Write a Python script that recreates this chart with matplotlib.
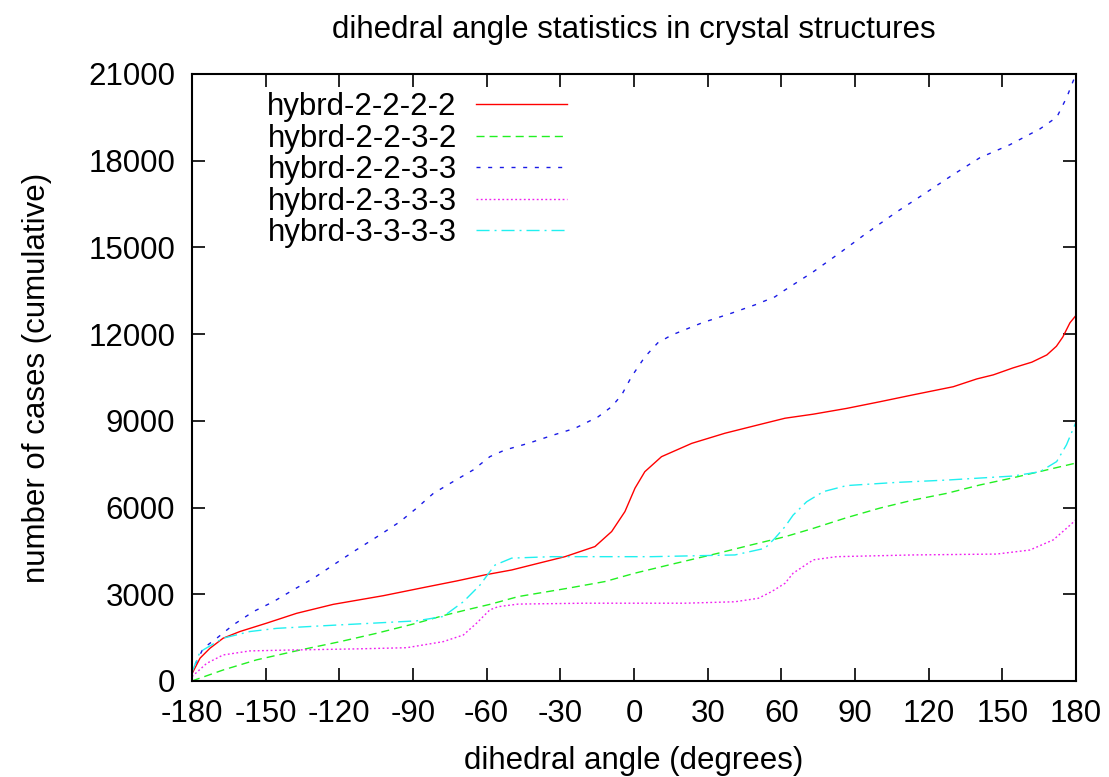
import matplotlib
matplotlib.use("Agg")
import matplotlib.pyplot as plt

# values (angle in degrees, cumulative count)
x_2222 = [-180, -176.7, -172.7, -167.3, -160.5, -149.6, -137.4, -122.5, -102.1, -85.8, -72.2,
          -60.7, -49.8, -39, -28.1, -15.9, -9.1, -3.7, 0.4, 4.4, 11.2, 23.5, 37, 50.6, 61.5,
          73, 86.6, 100.1, 113.7, 130, 139.6, 146.3, 154.3, 162, 168.1, 172, 174.6, 177.5, 180]
y_2222 = [250, 790, 1130, 1480, 1710, 2000, 2340, 2650, 2950, 3230, 3460,
          3670, 3840, 4070, 4300, 4650, 5170, 5860, 6670, 7240, 7760, 8220, 8570, 8860, 9090,
          9230, 9430, 9660, 9900, 10180, 10450, 10590, 10830, 11030, 11280, 11580, 11900, 12390, 12650]

x_2232 = [-180, -167.3, -153.7, -136, -119.7, -104.8, -88.5, -77.7, -68.2, -58.7, -47.1,
          -26.8, -11.8, 0.4, 14, 34.3, 47.9, 61.5, 73, 86.6, 100.1, 113.7, 127.3, 140.8,
          154.4, 168, 180]
y_2232 = [0, 380, 730, 1070, 1360, 1650, 2000, 2260, 2460, 2650, 2920,
          3210, 3440, 3730, 4010, 4420, 4710, 4990, 5280, 5650, 5980, 6260, 6490, 6780,
          7030, 7300, 7540]

x_2233 = [-180, -179.5, -175.4, -169.9, -163.2, -155, -146.9, -138.8, -130.6, -122.5, -114.3,
          -103.5, -95.3, -88.5, -81.7, -73.6, -65.5, -58.7, -52.6, -43.1, -33.5, -24.1, -14.6,
          -9.1, -5, -1, 4.4, 9.7, 15.4, 27.7, 39.9, 49.2, 57.4, 61, 72.9, 83.8, 94.8, 107,
          117.6, 129.8, 140.8, 153, 165.3, 172.2, 176.3, 178.7, 180]
y_2233 = [200, 440, 1130, 1480, 1940, 2400, 2740, 3150, 3550, 4010, 4470,
          5050, 5510, 5980, 6490, 6900, 7300, 7760, 7990, 8220, 8490, 8740, 9140,
          9490, 9900, 10530, 11210, 11700, 11970, 12390, 12730, 13010, 13290, 13500, 14150,
          14810, 15500, 16230, 16820, 17510, 18100, 18550, 19100, 19510, 20210, 20730, 21000]

x_2333 = [-180, -174, -167.3, -156.4, -140.1, -112.9, -92.6, -77.7, -69.5, -64.1, -58.7,
          -55.3, -47.1, -20, 20.7, 41.1, 50.6, 56, 61.5, 64.8, 73, 82.5, 113.7, 147.6,
          161.2, 170.7, 176.1, 180]
y_2333 = [150, 610, 900, 1040, 1070, 1110, 1150, 1360, 1590, 2000, 2460,
          2570, 2660, 2690, 2690, 2740, 2860, 3090, 3380, 3730, 4190, 4300, 4360, 4390,
          4530, 4880, 5280, 5580]

x_3333 = [-180, -176.7, -167.3, -156.4, -145.5, -126.5, -106.2, -88.5, -77.7, -69.5, -62.7,
          -58.7, -56.6, -49.8, -33.5, 7.2, 41.1, 53.3, 57.4, 61.5, 64.8, 70.3, 77.1, 86.6,
          107, 127.3, 154.4, 165.3, 172.1, 176.1, 179.5, 180]
y_3333 = [300, 1010, 1480, 1710, 1820, 1910, 2000, 2080, 2230, 2740, 3320,
          3780, 4010, 4250, 4300, 4300, 4360, 4590, 4940, 5340, 5740, 6200, 6550, 6760,
          6870, 6950, 7090, 7240, 7590, 8170, 8860, 8950]

labels = ["hybrd-2-2-2-2", "hybrd-2-2-3-2", "hybrd-2-2-3-3", "hybrd-2-3-3-3", "hybrd-3-3-3-3"]
colors = ["#ff0000", "#22f022", "#1a1ae6", "#f020f0", "#20f0f0"]
dashes = [None, (5.8, 3.6), (2.9, 5.5), (1.3, 1.8), (9.4, 3.6, 1.4, 3.6)]

xticks = list(range(-180, 181, 30))
yticks = list(range(0, 21001, 3000))

plt.rcParams['font.family'] = ['Liberation Sans', 'DejaVu Sans']
plt.rcParams['font.size'] = 22.5
plt.rcParams['axes.unicode_minus'] = False

fig = plt.figure(figsize=(11.09, 7.77), dpi=100)
ax = fig.add_axes([0.1731, 0.1236, 0.7972, 0.7812])

series = [(x_2222, y_2222), (x_2232, y_2232), (x_2233, y_2233), (x_2333, y_2333), (x_3333, y_3333)]
for (xs, ys), lab, col, ds in zip(series, labels, colors, dashes):
    line, = ax.plot(xs, ys, color=col, lw=1.0, label=lab)
    if ds is not None:
        line.set_dashes(ds)

ax.set_xlim(-180, 180)
ax.set_ylim(0, 21000)
ax.set_xticks(xticks)
ax.set_yticks(yticks)
ax.tick_params(direction='in', length=9.5, width=1.2, top=True, right=True)
ax.tick_params(axis='y', pad=12)
ax.tick_params(axis='x', pad=13)
for s in ax.spines.values():
    s.set_linewidth(1.5)

ax.set_title("dihedral angle statistics in crystal structures", pad=26, fontsize=22.5)
ax.set_xlabel("dihedral angle (degrees)", labelpad=12)
ax.set_ylabel("number of cases (cumulative)", labelpad=26)

ax.legend(loc='upper right', bbox_to_anchor=(0.424, 0.97), frameon=False,
          markerfirst=False, handlelength=2.9, handletextpad=0.62,
          labelspacing=0.05, borderpad=0, borderaxespad=0)

fig.savefig("out.png", dpi=100)
